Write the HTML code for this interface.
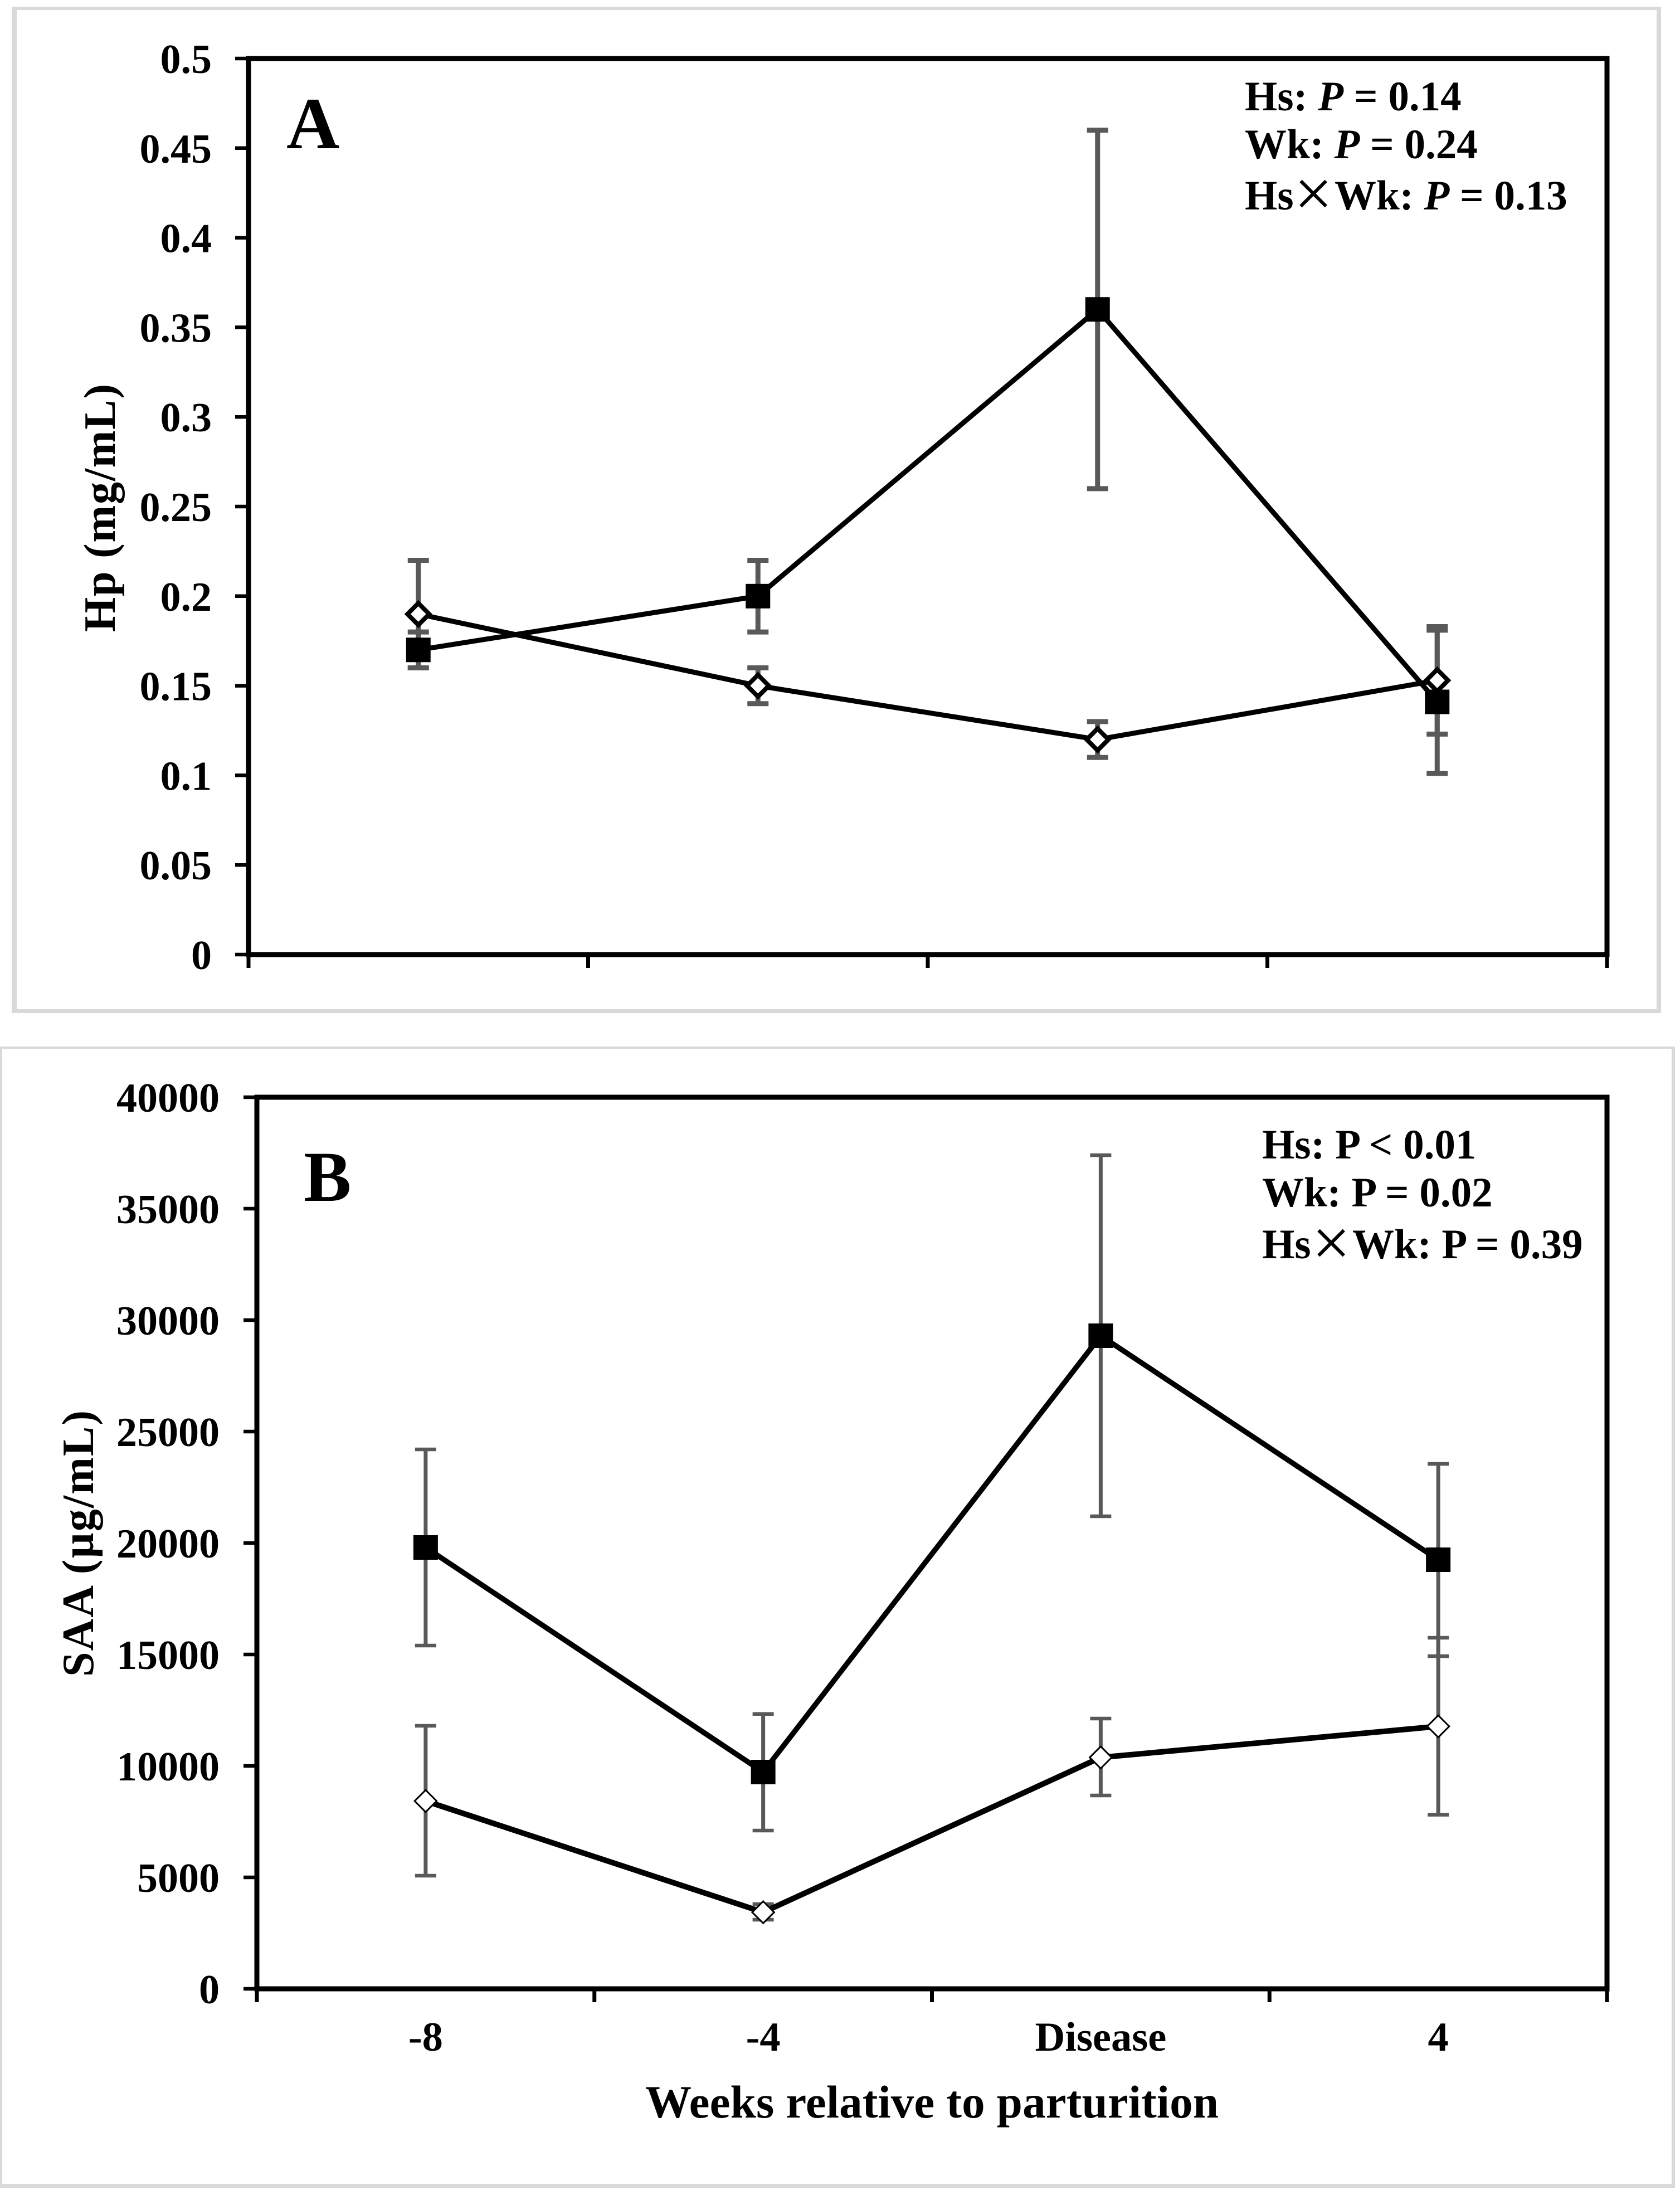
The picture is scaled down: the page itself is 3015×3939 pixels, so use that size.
<!DOCTYPE html>
<html lang="en">
<head>
<meta charset="utf-8">
<title>Hp and SAA relative to parturition</title>
<style>
html,body{margin:0;padding:0;background:#fff;width:3015px;height:3939px;overflow:hidden}
svg{display:block}
text{font-family:"Liberation Serif","Noto Serif CJK SC",serif;font-weight:bold;fill:#000}
</style>
</head>
<body>
<svg id="figure" xmlns="http://www.w3.org/2000/svg" width="3015" height="3939" viewBox="0 0 3015 3939">
  <rect x="0" y="0" width="3015" height="3939" fill="#fff"/>
  <rect x="21" y="12" width="2960" height="1806" fill="#d9d9d9"/>
  <rect x="30" y="18" width="2943" height="1793" fill="#fff"/>
  <rect x="0" y="1878" width="3006" height="2048" fill="#d9d9d9"/>
  <rect x="4" y="1882" width="2996" height="2037" fill="#fff"/>

  <g id="chart-a"></g>
  <g id="chart-b"></g>

  <text x="514" y="266" font-size="132">A</text>
  <text x="545" y="2155" font-size="128">B</text>

  <text transform="translate(206,1134) rotate(-90)" font-size="80" textLength="445" lengthAdjust="spacing">Hp (mg/mL)</text>
  <text transform="translate(167,3009) rotate(-90)" font-size="80" textLength="478" lengthAdjust="spacing">SAA (µg/mL)</text>

  <g>
    <text x="2234" y="198" font-size="75">Hs: <tspan font-style="italic">P</tspan> = 0.14</text>
    <text x="2234" y="284" font-size="75">Wk: <tspan font-style="italic">P</tspan> = 0.24</text>
    <text x="2234" y="376" font-size="75">Hs</text>
    <text x="2357" y="388" font-size="122" text-anchor="middle" style="font-weight:normal">×</text>
    <text x="2395" y="376" font-size="75">Wk: <tspan font-style="italic">P</tspan> = 0.13</text>
  </g>
  <g>
    <text x="2265" y="2079" font-size="75">Hs: P &lt; 0.01</text>
    <text x="2265" y="2165" font-size="75">Wk: P = 0.02</text>
    <text x="2265" y="2258" font-size="75">Hs</text>
    <text x="2389" y="2271" font-size="122" text-anchor="middle" style="font-weight:normal">×</text>
    <text x="2427" y="2258" font-size="75">Wk: P = 0.39</text>
  </g>

  <text x="1158" y="3800" font-size="83" textLength="1029" lengthAdjust="spacing">Weeks relative to parturition</text>
</svg>
<script>
// Shared categories
const categories = ['-8', '-4', 'Disease', '4'];

// Panel A: haptoglobin (mg/mL)
const hpTickLabels = ['0', '0.05', '0.1', '0.15', '0.2', '0.25', '0.3', '0.35', '0.4', '0.45', '0.5'];
const hpFilledMean = [0.17, 0.2, 0.36, 0.141];
const hpFilledUpper = [0.18, 0.22, 0.46, 0.181];
const hpFilledLower = [0.16, 0.18, 0.26, 0.101];
const hpHollowMean = [0.19, 0.15, 0.12, 0.153];
const hpHollowUpper = [0.22, 0.16, 0.13, 0.183];
const hpHollowLower = [0.16, 0.14, 0.11, 0.123];

// Panel B: serum amyloid A (ug/mL)
const saaTickLabels = ['0', '5000', '10000', '15000', '20000', '25000', '30000', '35000', '40000'];
const saaFilledMean = [19800, 9725, 29300, 19250];
const saaFilledUpper = [24200, 12330, 37400, 23550];
const saaFilledLower = [15400, 7100, 21200, 14925];
const saaHollowMean = [8425, 3435, 10380, 11775];
const saaHollowUpper = [11800, 3800, 12125, 15750];
const saaHollowLower = [5075, 3100, 8675, 7810];

const SVG_NS = 'http://www.w3.org/2000/svg';

function mk(parent, tag, attrs, text) {
  const el = document.createElementNS(SVG_NS, tag);
  for (const k in attrs) el.setAttribute(k, attrs[k]);
  if (text !== undefined) el.textContent = text;
  parent.appendChild(el);
  return el;
}

function makeXScale(left, right, count) {
  return function (i) { return left + (right - left) * (i + 0.5) / count; };
}

function makeTickX(left, right, count) {
  return function (i) { return left + (right - left) * i / count; };
}

function makeYScale(bottom, top, max) {
  return function (v) { return bottom - (bottom - top) * v / max; };
}

function drawErrors(g, prefix, xs, ys, upper, lower, style) {
  for (let i = 0; i < upper.length; i++) {
    const cx = xs(i);
    const stem = mk(g, 'line', { x1: cx, x2: cx, y1: ys(upper[i]), y2: ys(lower[i]), stroke: '#595959', 'stroke-width': style.stemWidth });
    
    
    [upper[i], lower[i]].forEach(function (v) {
      const cap = mk(g, 'line', { x1: cx - 19, x2: cx + 19, y1: ys(v), y2: ys(v), stroke: '#595959', 'stroke-width': style.capWidth });
      
      
    });
  }
}

function drawLine(g, prefix, xs, ys, mean, style) {
  const pts = mean.map(function (v, i) { return xs(i) + ',' + ys(v); }).join(' ');
  const line = mk(g, 'polyline', { points: pts, fill: 'none', stroke: '#000', 'stroke-width': style.lineWidth, 'stroke-linejoin': 'round' });
  
  
}

function drawMarkers(g, prefix, xs, ys, mean, style) {
  for (let i = 0; i < mean.length; i++) {
    const cx = xs(i), cy = ys(mean[i]);
    if (style.marker === 'square') {
      const sq = mk(g, 'rect', { x: cx - 22, y: cy - 22, width: 44, height: 44, fill: '#000' });
      
      
    } else {
      const h = style.diamondSize;
      const d = 'M' + cx + ' ' + (cy - h) + 'L' + (cx + h) + ' ' + cy + 'L' + cx + ' ' + (cy + h) + 'L' + (cx - h) + ' ' + cy + 'Z';
      const dm = mk(g, 'path', { d: d, fill: '#fff', stroke: '#000', 'stroke-width': style.diamondStroke });
      
      
    }
  }
}

function drawAxes(g, prefix, box, tickLabels, maxValue, labelRight, showCategories) {
  const ys = makeYScale(box.bottom, box.top, maxValue);
  const tx = makeTickX(box.left, box.right, categories.length);
  const xs = makeXScale(box.left, box.right, categories.length);
  const plot = mk(g, 'rect', { x: box.left, y: box.top, width: box.right - box.left, height: box.bottom - box.top, fill: 'none', stroke: '#000', 'stroke-width': 9 });
  
  
  tickLabels.forEach(function (label) {
    const y = ys(parseFloat(label));
    const tick = mk(g, 'line', { x1: box.left - 24, x2: box.left, y1: y, y2: y, stroke: '#000', 'stroke-width': 6.5 });
    
    
    const txt = mk(g, 'text', { x: labelRight, y: y + 26, 'text-anchor': 'end', 'font-size': 74 }, label);
    
    
  });
  for (let i = 0; i <= categories.length; i++) {
    const x = tx(i);
    const tick = mk(g, 'line', { x1: x, x2: x, y1: box.bottom, y2: box.bottom + 24, stroke: '#000', 'stroke-width': 7 });
    
    
  }
  if (showCategories) {
    categories.forEach(function (c, i) {
      const txt = mk(g, 'text', { x: xs(i), y: box.bottom + 111, 'text-anchor': 'middle', 'font-size': 74.5 }, c);
      
      
    });
  }
  return { xs: xs, ys: ys };
}

const gA = document.getElementById('chart-a');
const boxA = { left: 446, right: 2884, top: 105, bottom: 1713 };
const axA = drawAxes(gA, 'hp', boxA, hpTickLabels, 0.5, 380, false);
const styleAFilled = { marker: 'square', lineWidth: 9, capWidth: 9, stemWidth: 9 };
const styleAHollow = { marker: 'diamond', lineWidth: 9, capWidth: 9, stemWidth: 9, diamondSize: 19.5, diamondStroke: 8 };
drawErrors(gA, 'hp-hollow', axA.xs, axA.ys, hpHollowUpper, hpHollowLower, styleAHollow);
drawErrors(gA, 'hp-filled', axA.xs, axA.ys, hpFilledUpper, hpFilledLower, styleAFilled);
drawLine(gA, 'hp-hollow', axA.xs, axA.ys, hpHollowMean, styleAHollow);
drawLine(gA, 'hp-filled', axA.xs, axA.ys, hpFilledMean, styleAFilled);
drawMarkers(gA, 'hp-hollow', axA.xs, axA.ys, hpHollowMean, styleAHollow);
drawMarkers(gA, 'hp-filled', axA.xs, axA.ys, hpFilledMean, styleAFilled);

const gB = document.getElementById('chart-b');
const boxB = { left: 461, right: 2884, top: 1969, bottom: 3569 };
const axB = drawAxes(gB, 'saa', boxB, saaTickLabels, 40000, 394, true);
const styleBFilled = { marker: 'square', lineWidth: 9.5, capWidth: 6.5, stemWidth: 7 };
const styleBHollow = { marker: 'diamond', lineWidth: 10, capWidth: 6.5, stemWidth: 7, diamondSize: 19.7, diamondStroke: 3 };
drawErrors(gB, 'saa-hollow', axB.xs, axB.ys, saaHollowUpper, saaHollowLower, styleBHollow);
drawErrors(gB, 'saa-filled', axB.xs, axB.ys, saaFilledUpper, saaFilledLower, styleBFilled);
drawLine(gB, 'saa-hollow', axB.xs, axB.ys, saaHollowMean, styleBHollow);
drawLine(gB, 'saa-filled', axB.xs, axB.ys, saaFilledMean, styleBFilled);
drawMarkers(gB, 'saa-hollow', axB.xs, axB.ys, saaHollowMean, styleBHollow);
drawMarkers(gB, 'saa-filled', axB.xs, axB.ys, saaFilledMean, styleBFilled);
</script>
</body>
</html>
